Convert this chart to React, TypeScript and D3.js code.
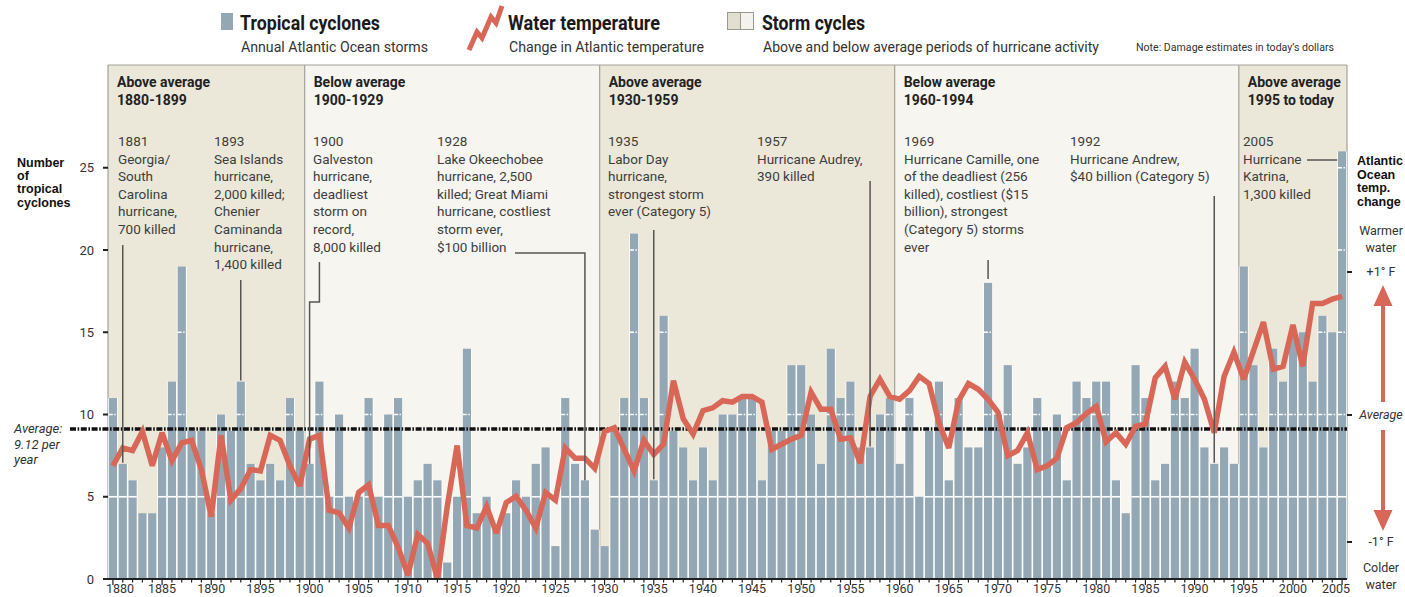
import React from 'react';
import * as d3 from 'd3';

// annual Atlantic tropical cyclones, 1880 onward
const firstYear = 1880;
const stormCounts = [
  11, 7, 6, 4, 4, 8, 12, 19, 9, 9,
  4, 10, 9, 12, 7, 6, 7, 6, 11, 9,
  7, 12, 5, 10, 5, 5, 11, 5, 10, 11,
  5, 6, 7, 6, 1, 5, 14, 4, 5, 3,
  4, 6, 5, 7, 8, 2, 11, 7, 6, 3,
  2, 9, 11, 21, 11, 6, 16, 9, 8, 6,
  8, 6, 10, 10, 11, 11, 6, 9, 9, 13,
  13, 10, 7, 14, 11, 12, 8, 8, 10, 11,
  7, 11, 5, 9, 12, 6, 11, 8, 8, 18,
  10, 13, 7, 8, 11, 9, 10, 6, 12, 11,
  12, 12, 6, 4, 13, 11, 6, 7, 12, 11,
  14, 8, 7, 8, 7, 19, 13, 8, 14, 12,
  15, 15, 12, 16, 15, 26,
];

// change in Atlantic water temperature, deg F from average
const tempChange = [
  -0.40, -0.26, -0.28, -0.13, -0.40, -0.14, -0.36, -0.22, -0.20, -0.43,
  -0.80, -0.16, -0.67, -0.58, -0.43, -0.44, -0.16, -0.20, -0.40, -0.56,
  -0.19, -0.16, -0.75, -0.77, -0.89, -0.61, -0.55, -0.87, -0.87, -1.04,
  -1.26, -0.94, -1.01, -1.29, -0.72, -0.24, -0.87, -0.89, -0.72, -0.93,
  -0.69, -0.64, -0.75, -0.89, -0.61, -0.67, -0.26, -0.34, -0.34, -0.42,
  -0.13, -0.10, -0.27, -0.44, -0.20, -0.31, -0.23, 0.24, -0.03, -0.15,
  0.03, 0.05, 0.10, 0.09, 0.13, 0.13, 0.09, -0.27, -0.23, -0.19,
  -0.16, 0.16, 0.04, 0.04, -0.19, -0.18, -0.38, 0.13, 0.25, 0.13,
  0.11, 0.17, 0.27, 0.22, -0.06, -0.26, 0.10, 0.22, 0.18, 0.11,
  0.02, -0.32, -0.28, -0.14, -0.43, -0.40, -0.34, -0.10, -0.06, 0.01,
  0.06, -0.21, -0.14, -0.23, -0.09, -0.07, 0.26, 0.34, 0.11, 0.37,
  0.25, 0.11, -0.14, 0.27, 0.44, 0.25, 0.45, 0.65, 0.32, 0.34,
  0.63, 0.34, 0.78, 0.78, 0.81, 0.83,
];

const years = stormCounts.map((_, i) => firstYear + i);
const averageStorms = 9.12;

const yTicks = [0, 5, 10, 15, 20, 25];
const gridValues = [5, 10, 15, 20, 25];
const xLabelYears = [1880, 1885, 1890, 1895, 1900, 1905, 1910, 1915, 1920, 1925, 1930, 1935,
  1940, 1945, 1950, 1955, 1960, 1965, 1970, 1975, 1980, 1985, 1990, 1995, 2000, 2005];

const tempTickValues = [1, 0, -1];
const tempTickLabels = ['+1° F', 'Average', '-1° F'];

// storm cycles
const cycleNames = ['Above average', 'Below average', 'Above average', 'Below average', 'Above average'];
const cycleSpans = ['1880-1899', '1900-1929', '1930-1959', '1960-1994', '1995 to today'];
const cycleFrom = [1880, 1900, 1930, 1960, 1995];
const cycleTo = [1899, 1929, 1959, 1994, 2005];
const cycleAbove = [true, false, true, false, true];

// notable storms
const noteYears = [1881, 1893, 1900, 1928, 1935, 1957, 1969, 1992, 2005];
const noteLines = [
  ['1881', 'Georgia/', 'South', 'Carolina', 'hurricane,', '700 killed'],
  ['1893', 'Sea Islands', 'hurricane,', '2,000 killed;', 'Chenier', 'Caminanda', 'hurricane,', '1,400 killed'],
  ['1900', 'Galveston', 'hurricane,', 'deadliest', 'storm on', 'record,', '8,000 killed'],
  ['1928', 'Lake Okeechobee', 'hurricane, 2,500', 'killed; Great Miami', 'hurricane, costliest', 'storm ever,', '$100 billion'],
  ['1935', 'Labor Day', 'hurricane,', 'strongest storm', 'ever (Category 5)'],
  ['1957', 'Hurricane Audrey,', '390 killed'],
  ['1969', 'Hurricane Camille, one', 'of the deadliest (256', 'killed), costliest ($15', 'billion), strongest', '(Category 5) storms', 'ever'],
  ['1992', 'Hurricane Andrew,', '$40 billion (Category 5)'],
  ['2005', 'Hurricane', 'Katrina,', '1,300 killed'],
];

const legendTitles = ['Tropical cyclones', 'Water temperature', 'Storm cycles'];
const legendSubs = ['Annual Atlantic Ocean storms', 'Change in Atlantic temperature',
  'Above and below average periods of hurricane activity'];
const noteText = 'Note: Damage estimates in today\u2019s dollars';

// layout
const W = 1405, H = 597;
const left = 108, right = 1347, top = 65, base = 579;
const noteX = [118, 214, 313, 437, 608, 757, 904, 1070, 1243];
const noteLeaderTop = [245, 280, 262, 253, 230, 181, 260, 196, 160];
const legendX = [240, 508, 762];
const legendTitleW = [140, 152, 103];
const legendSubW = [187, 195, 336];

const barColor = '#93a8b4';
const red = '#d96758';
const aboveFill = '#ebe8da';
const belowFill = '#f6f5f0';
const sans = "Roboto, 'Liberation Sans', Arial, sans-serif";
const heavy = "'Liberation Sans', Arial, sans-serif";

export default function App() {
  const x = d3.scaleBand<number>().domain(years).range([left, right]).padding(0);
  const bw = x.bandwidth();
  const cx = (yr: number) => (x(yr) as number) + bw / 2;
  const y = d3.scaleLinear().domain([0, 25]).range([base, 167.75]);
  const yT = d3.scaleLinear().domain([-1, 0, 1]).range([542, 415, 272]);

  const tempLine = d3.line<number>()
    .x((_, i) => cx(years[i]))
    .y(d => yT(d))(tempChange) as string;

  const countOf = (yr: number) => stormCounts[years.indexOf(yr)];

  const leaderPath = (i: number) => {
    const yr = noteYears[i];
    const t = noteLeaderTop[i];
    const barTop = y(countOf(yr));
    if (yr === 1900) {
      return `M${cx(1901)},${t}V302H${cx(1900)}V${barTop}`;
    }
    if (yr === 1928) {
      return `M515,${t}H${cx(1928)}V${barTop}`;
    }
    if (yr === 2005) {
      return `M1307,${t}H${x(2005)}`;
    }
    return `M${cx(yr)},${t}V${barTop - (yr === 1969 ? 4 : 1)}`;
  };

  const labelX = (yr: number) => Math.max(left + 12, Math.min(right - 11, cx(yr)));

  return (
    <svg width={W} height={H} style={{ position: 'absolute', left: 0, top: 0, background: '#fff' }}
      fontFamily={sans}>
      {/* legend */}
      <rect x={221} y={13} width={12} height={17} fill={barColor} />
      <polyline points="469,50 477,32 482,38 491,17 496,23 502,6" fill="none" stroke={red}
        strokeWidth={5} strokeLinejoin="miter" />
      <rect x={727.5} y={12.5} width={13} height={17} fill="#e2dfd0" stroke="#9a998f" />
      <rect x={740.5} y={12.5} width={13} height={17} fill="#f3f2ec" stroke="#9a998f" />
      {legendTitles.map((t, i) => (
        <text key={t} x={legendX[i]} y={30} fontSize={20} fontWeight={700} fill="#1a1a1a"
          textLength={legendTitleW[i]} lengthAdjust="spacingAndGlyphs">{t}</text>
      ))}
      {legendSubs.map((t, i) => (
        <text key={t} x={legendX[i] + 1} y={52} fontSize={14} fill="#333"
          textLength={legendSubW[i]} lengthAdjust="spacingAndGlyphs">{t}</text>
      ))}
      <text x={1136} y={51} fontSize={10} fill="#333" textLength={198}
        lengthAdjust="spacingAndGlyphs">{noteText}</text>

      {/* storm cycle panels */}
      {cycleFrom.map((f, i) => {
        const x0 = x(f) as number;
        const x1 = (x(cycleTo[i]) as number) + bw;
        return (
          <g key={i}>
            <rect x={x0} y={top} width={x1 - x0} height={base - top}
              fill={cycleAbove[i] ? aboveFill : belowFill} />
            <line x1={x0} x2={x0} y1={top} y2={base} stroke="#a3a298" strokeWidth={1.2} />
            <text x={x0 + 9} y={87} fontSize={14} fontWeight={700} fill="#222">{cycleNames[i]}</text>
            <text x={x0 + 9} y={105} fontSize={14} fontWeight={700} fill="#222">{cycleSpans[i]}</text>
          </g>
        );
      })}
      <line x1={left} x2={right} y1={top} y2={top} stroke="#a3a298" strokeWidth={1.2} />
      <line x1={right} x2={right} y1={top} y2={base} stroke="#a3a298" strokeWidth={1.2} />

      {/* notes */}
      {noteLines.map((lines, i) => (
        <text key={i} x={noteX[i]} y={146} fontSize={13.5} fill="#3d3d3d">
          {lines.map((l, j) => (
            <tspan key={j} x={noteX[i]} dy={j === 0 ? 0 : 17.6}>{l}</tspan>
          ))}
        </text>
      ))}

      {/* bars */}
      {years.map((yr, i) => {
        const v = stormCounts[i];
        const x0 = x(yr) as number;
        return (
          <g key={yr}>
            <rect x={x0} y={y(v)} width={bw} height={base - y(v)} fill="#fff" />
            <rect x={x0 + 0.8} y={y(v)} width={bw - 1.6} height={base - y(v)} fill={barColor} />
            {gridValues.filter(g => v > g).map(g => (
              <line key={g} x1={x0 + 0.8} x2={x0 + bw - 0.8} y1={y(g)} y2={y(g)} stroke="#fff"
                strokeWidth={1.6} strokeDasharray={g === 5 ? undefined : '4,1.5,1.5,1.5'} />
            ))}
          </g>
        );
      })}

      {/* average */}
      <line x1={70} x2={right} y1={y(averageStorms)} y2={y(averageStorms)} stroke="#111"
        strokeWidth={3.5} strokeDasharray="6,1.6,1.6,1.6" />
      <text x={14} y={433} fontSize={13} fontStyle="italic" fill="#333">
        <tspan x={14}>Average:</tspan>
        <tspan x={14} dy={15.5}>9.12 per</tspan>
        <tspan x={14} dy={15.5}>year</tspan>
      </text>

      {/* water temperature */}
      <path d={tempLine} fill="none" stroke={red} strokeWidth={5.5} strokeLinejoin="miter"
        strokeMiterlimit={3} />

      {/* leaders */}
      {noteYears.map((_, i) => (
        <path key={i} d={leaderPath(i)} fill="none" stroke="#555" strokeWidth={1.5} />
      ))}

      {/* left axis */}
      <text fontFamily={heavy} fontWeight={700} fontSize={12.5} fill="#111">
        {['Number', 'of', 'tropical', 'cyclones'].map((t, j) => (
          <tspan key={t} x={17} y={167 + j * 13.2}>{t}</tspan>
        ))}
      </text>
      {yTicks.map(t => (
        <g key={t}>
          <line x1={103} x2={108} y1={y(t)} y2={y(t)} stroke="#222" strokeWidth={2} />
          <text x={94} y={y(t)} dy="0.35em" textAnchor="end" fontSize={13} fill="#333">{t}</text>
        </g>
      ))}

      {/* x axis */}
      <line x1={left} x2={right} y1={base} y2={base} stroke="#222" strokeWidth={2} />
      {years.map(yr => (
        <line key={yr} x1={cx(yr)} x2={cx(yr)} y1={base} y2={base + (yr % 5 === 0 ? 6 : 3.5)}
          stroke="#222" strokeWidth={1.2} />
      ))}
      {xLabelYears.map(yr => (
        <text key={yr} x={labelX(yr)} y={593} textAnchor="middle" fontSize={12.5} fill="#333">{yr}</text>
      ))}

      {/* right axis */}
      <text fontFamily={heavy} fontWeight={700} fontSize={12.5} fill="#111">
        {['Atlantic', 'Ocean', 'temp.', 'change'].map((t, j) => (
          <tspan key={t} x={1357} y={165 + j * 13.5}>{t}</tspan>
        ))}
      </text>
      <text textAnchor="middle" fontSize={12.5} fill="#333">
        <tspan x={1381} y={235}>Warmer</tspan>
        <tspan x={1381} y={252}>water</tspan>
      </text>
      <text textAnchor="middle" fontSize={12.5} fill="#333">
        <tspan x={1381} y={572}>Colder</tspan>
        <tspan x={1381} y={589}>water</tspan>
      </text>
      {tempTickValues.map((v, i) => (
        <g key={v}>
          <line x1={right} x2={right + 5} y1={yT(v)} y2={yT(v)} stroke="#222" strokeWidth={2} />
          <text x={1381} y={yT(v)} dy="0.35em" textAnchor="middle" fontSize={12.5} fill="#333"
            fontStyle={v === 0 ? 'italic' : 'normal'}>{tempTickLabels[i]}</text>
        </g>
      ))}
      <line x1={1383} x2={1383} y1={302} y2={402} stroke={red} strokeWidth={4} />
      <polygon points="1383,285 1373.5,306 1392.5,306" fill={red} />
      <line x1={1383} x2={1383} y1={430} y2={514} stroke={red} strokeWidth={4} />
      <polygon points="1383,531 1373.5,510 1392.5,510" fill={red} />
    </svg>
  );
}
